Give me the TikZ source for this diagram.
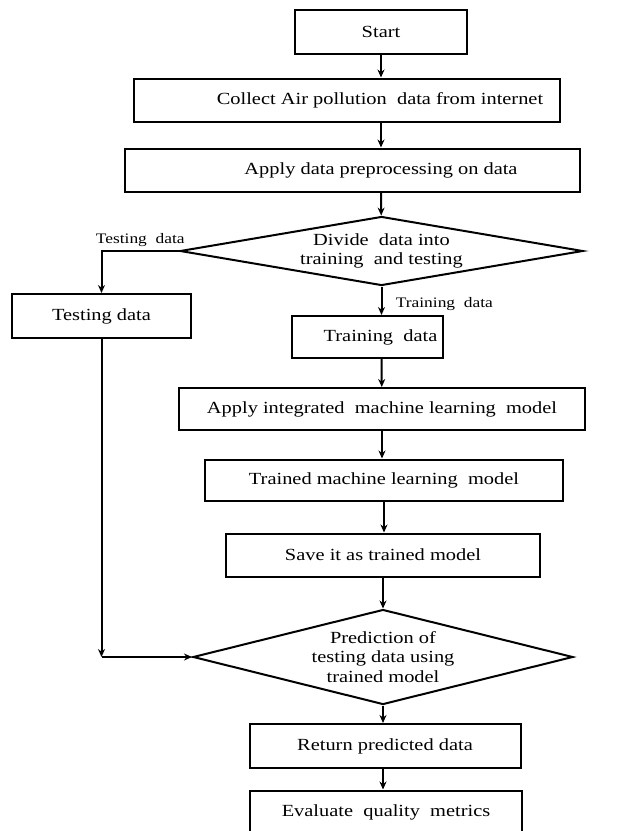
\documentclass[tikz,border=0pt]{standalone}
\usepackage{fontspec}
\setmainfont{Liberation Serif}[FakeStretch=1.2]
\usetikzlibrary{arrows.meta, positioning, shapes.geometric}

\begin{document}
\begin{tikzpicture}[auto, >={Stealth[length=8pt,width=7pt]}, line width=2pt]
        % Styles for process boxes, decisions and branch labels
        \tikzstyle{block} = [draw, rectangle, minimum height=43pt, inner sep=0pt, font=\fontsize{17}{20}\selectfont]
        \tikzstyle{decision} = [draw, diamond, inner sep=0pt, align=center, font=\fontsize{17}{19.5}\selectfont]
        \tikzstyle{branch} = [font=\fontsize{14.5}{17}\selectfont]
        \useasboundingbox (0,0) rectangle (627pt,-831pt);
        % Nodes
        \node at (381pt,-32pt) [block, minimum width=172pt, minimum height=44pt] (start) {Start}; % Start
        \node [block, on grid, below=68pt of start, xshift=-34pt, minimum width=426pt] (collect) {\hspace*{66pt}Collect Air pollution\ \ data from internet}; % Data collection
        \node [block, on grid, below=70pt of collect, xshift=5pt, minimum width=455pt] (preproc) {\hspace*{58pt}Apply data preprocessing on data}; % Preprocessing
        \node [decision, on grid, below=81pt of preproc, xshift=29.5pt, minimum width=403pt, minimum height=69pt, aspect=5.8] (divide) {Divide\ \ data into\\training\ \ and testing}; % Split decision
        \node [block, on grid, below=65pt of divide, xshift=-280pt, minimum width=179pt, minimum height=44pt] (testing) {Testing data}; % Testing branch
        \node [block, on grid, below=86pt of divide, xshift=-14pt, minimum width=151pt, minimum height=42pt] (training) {\hspace*{26pt}Training\ \ data}; % Training branch
        \node [block, on grid, below=72pt of training, xshift=14.5pt, minimum width=406pt, minimum height=42pt] (integ) {Apply integrated\ \ machine learning\ \ model}; % Model
        \node [block, on grid, below=71pt of integ, xshift=2pt, minimum width=358pt, minimum height=41pt] (trained) {Trained machine learning\ \ model}; % Trained model
        \node [block, on grid, below=75pt of trained, xshift=-1pt, minimum width=314pt] (save) {Save it as trained model}; % Save
        \node [decision, on grid, below=102pt of save, minimum width=380pt, minimum height=95pt, aspect=4] (predict) {Prediction of\\testing data using\\trained model}; % Prediction decision
        \node [block, on grid, below=89pt of predict, xshift=2pt, minimum width=271pt, minimum height=44pt] (return) {Return predicted data}; % Output
        \node [block, on grid, below=66pt of return, xshift=1pt, minimum width=272pt] (evaluate) {Evaluate\ \ quality\ \ metrics}; % Evaluation
        \node at (testing.south |- predict.west) [coordinate] (elbowPredict) {}; % Elbow for testing data
        % Connections
        \draw[->] (start) -- (start |- collect.north);
        \draw[->] (start |- collect.south) -- (start |- preproc.north);
        \draw[->] (start |- preproc.south) -- (divide);
        \draw[->] (divide.west) -| node[branch, pos=0.25, above] {Testing\ \ data} (testing.north); % Testing split
        \draw[->] (divide) -- node[branch, right, pos=0.6, xshift=10pt] {Training\ \ data} (divide |- training.north); % Training split
        \draw[->] (divide |- training.south) -- (integ);
        \draw[->] (integ) -- (integ |- trained.north);
        \draw[->] (trained) -- (trained |- save.north);
        \draw[->] (save) -- (predict);
        \draw[->] (testing) -- (elbowPredict);
        \draw[->] (elbowPredict) -- (predict);
        \draw[->] (predict) -- (predict |- return.north);
        \draw[->] (predict |- return.south) -- (predict |- evaluate.north);
\end{tikzpicture}
\end{document}
